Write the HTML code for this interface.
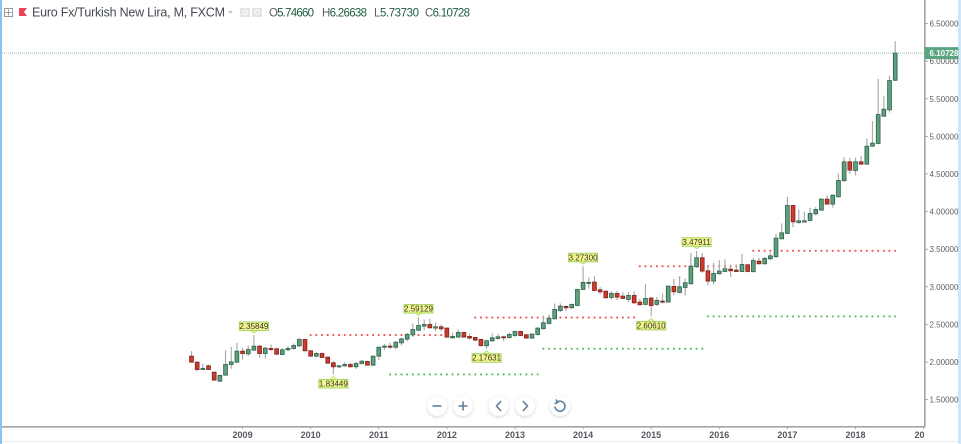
<!DOCTYPE html>
<html>
<head>
<meta charset="utf-8">
<title>Euro Fx/Turkish New Lira chart</title>
<style>
html,body{margin:0;padding:0;background:#fff;width:961px;height:444px;overflow:hidden}
svg{display:block;font-family:"Liberation Sans",sans-serif;filter:blur(0.35px)}
</style>
</head>
<body>
<svg id="chart" width="961" height="444" viewBox="0 0 961 444" xmlns="http://www.w3.org/2000/svg">
<defs>
<filter id="soft" x="-50%" y="-50%" width="200%" height="200%"><feGaussianBlur stdDeviation="1.6"/></filter>
</defs>
<rect x="0" y="0" width="961" height="444" fill="#fff"/>
<rect x="0" y="0" width="2" height="444" fill="#8cc2f2"/>
<rect x="958" y="0" width="3" height="444" fill="#cfe6f8"/>
<rect x="2" y="441" width="956" height="1" fill="#e6eef5"/>
<g id="pivots"></g>
<line id="lastLine" x1="2" x2="925" stroke="#8fc4a6" stroke-width="1" stroke-dasharray="1 1"/>
<g id="candles"></g>
<g id="callouts"></g>
<rect x="2" y="426" width="923" height="1.6" fill="#a3a3a3"/>
<rect x="924" y="0" width="1.6" height="427.6" fill="#a3a3a3"/>
<g id="yAxis"></g>
<g id="xAxis"></g>
<g>
<rect id="badgeRect" x="924.500" width="34" height="12" fill="#5ba582"/>
<text id="badgeText" x="944" text-anchor="middle" font-size="8" font-weight="bold" fill="#fff">6.10728</text>
</g>
<g>
<g>
<rect x="4.5" y="8.5" width="8" height="8" fill="#fff" stroke="#9a9a9a"/>
<path d="M8.5 9.5v6M5.5 12.5h6" stroke="#9a9a9a" stroke-width="1" fill="none"/>
</g>
<path d="M19 8h8l-3 4 3 4h-8z" fill="#ee3f5b"/>
<text x="32" y="16.5" font-size="12.5" fill="#454a52" textLength="193" lengthAdjust="spacing">Euro Fx/Turkish New Lira, M, FXCM</text>
<path d="M228 11h5l-2.5 2.5z" fill="#bdbdbd"/>
<g>
<rect x="240" y="8" width="10" height="9" fill="#e4e4e4"/><circle cx="245" cy="12.5" r="2.2" fill="none" stroke="#fff"/>
</g>
<g>
<rect x="252" y="8" width="10" height="9" fill="#e4e4e4"/><circle cx="257" cy="12.5" r="2.2" fill="none" stroke="#fff"/>
</g>
<text x="269" y="16.5" font-size="11.5" fill="#1f5c40" textLength="45" lengthAdjust="spacing"><tspan fill="#5a5f66">O</tspan>5.74660</text>
<text x="322" y="16.5" font-size="11.5" fill="#1f5c40" textLength="45" lengthAdjust="spacing"><tspan fill="#5a5f66">H</tspan>6.26638</text>
<text x="374" y="16.5" font-size="11.5" fill="#1f5c40" textLength="45" lengthAdjust="spacing"><tspan fill="#5a5f66">L</tspan>5.73730</text>
<text x="425" y="16.5" font-size="11.5" fill="#1f5c40" textLength="45" lengthAdjust="spacing"><tspan fill="#5a5f66">C</tspan>6.10728</text>
</g>
<g fill="none" stroke="#5f7f9f" stroke-width="1.6">
<g>
<circle cx="437" cy="407" r="10" fill="#000" fill-opacity=".16" stroke="none" filter="url(#soft)"/><circle cx="437" cy="406" r="10" fill="#fff" stroke="none"/>
<path d="M432.5 406h9"/>
</g>
<g>
<circle cx="463" cy="407" r="10" fill="#000" fill-opacity=".16" stroke="none" filter="url(#soft)"/><circle cx="463" cy="406" r="10" fill="#fff" stroke="none"/>
<path d="M458.5 406h9M463 401.5v9"/>
</g>
<g>
<circle cx="498.500" cy="407" r="10" fill="#000" fill-opacity=".16" stroke="none" filter="url(#soft)"/><circle cx="498.500" cy="406" r="10" fill="#fff" stroke="none"/>
<path d="M501 401l-4.500 5 4.500 5"/>
</g>
<g>
<circle cx="525" cy="407" r="10" fill="#000" fill-opacity=".16" stroke="none" filter="url(#soft)"/><circle cx="525" cy="406" r="10" fill="#fff" stroke="none"/>
<path d="M523 401l4.500 5-4.500 5"/>
</g>
<g>
<circle cx="560" cy="407" r="10" fill="#000" fill-opacity=".16" stroke="none" filter="url(#soft)"/><circle cx="560" cy="406" r="10" fill="#fff" stroke="none"/>
<path d="M557 402.200a5 5 0 1 1-2 4.300"/><path d="M556 399.500l1.500 3-3 1.200"/>
</g>
</g>
</svg>
<script>
var startYear = 2008, startMonth = 4;
var opens = [
2.078,1.998,1.900,1.949,1.865,1.745,1.825,1.967,1.998,
2.144,2.109,2.158,2.211,2.113,2.180,2.175,2.100,2.162,2.180,2.215,2.299,
2.149,2.078,2.113,2.065,1.989,1.936,1.949,1.967,1.936,1.980,2.007,1.958,
2.078,2.197,2.211,2.197,2.255,2.304,2.361,2.423,2.477,2.499,2.451,2.468,
2.451,2.322,2.331,2.393,2.340,2.327,2.300,2.216,2.282,2.313,2.335,2.327,
2.353,2.406,2.362,2.318,2.366,2.442,2.513,2.575,2.685,2.739,2.721,2.752,
2.965,3.047,3.062,2.960,2.942,2.858,2.911,2.876,2.832,2.885,2.797,2.766,
2.850,2.766,2.810,2.797,3.005,2.925,2.992,3.040,3.266,3.386,3.213,3.076,
3.173,3.204,3.235,3.222,3.204,3.293,3.200,3.341,3.306,3.373,3.399,3.638,
3.709,4.081,3.855,3.860,3.882,3.971,4.020,4.166,4.100,4.197,4.410,4.662,
4.547,4.662,4.631,4.870,4.906,5.269,5.353,5.7466];
var highs = [
2.144,2.011,1.976,1.967,1.865,1.834,2.158,2.202,2.255,
2.188,2.220,2.35849,2.228,2.202,2.233,2.193,2.188,2.211,2.246,2.321,2.308,
2.158,2.131,2.127,2.073,2.011,1.958,1.998,1.989,2.002,2.025,2.016,2.082,
2.202,2.242,2.255,2.277,2.321,2.388,2.512,2.59129,2.566,2.575,2.521,2.499,
2.459,2.389,2.433,2.397,2.380,2.335,2.309,2.300,2.380,2.375,2.349,2.389,
2.415,2.415,2.371,2.380,2.464,2.619,2.632,2.778,2.778,2.756,2.778,2.975,
3.273,3.120,3.142,2.996,2.951,2.942,2.942,2.929,2.929,2.942,2.841,3.040,
2.867,2.867,2.912,3.018,3.107,3.142,3.107,3.450,3.47911,3.452,3.293,3.319,
3.355,3.364,3.297,3.297,3.439,3.302,3.386,3.386,3.395,3.452,3.705,3.842,
4.197,4.090,4.028,3.997,4.050,4.064,4.175,4.219,4.228,4.503,4.724,4.715,
4.715,4.742,4.972,5.203,5.765,5.535,5.810,6.26638];
var lows = [
1.989,1.878,1.900,1.900,1.754,1.737,1.821,1.909,1.989,
2.033,2.078,2.144,2.056,2.047,2.144,2.095,2.091,2.144,2.166,2.202,2.144,
2.069,2.060,2.056,1.976,1.83449,1.918,1.936,1.927,1.909,1.967,1.954,1.945,
2.025,2.158,2.175,2.166,2.220,2.277,2.335,2.410,2.424,2.442,2.411,2.411,
2.322,2.309,2.322,2.322,2.300,2.278,2.202,2.17631,2.265,2.300,2.278,2.309,
2.335,2.344,2.313,2.309,2.353,2.433,2.499,2.566,2.663,2.677,2.708,2.743,
2.956,2.978,2.942,2.898,2.845,2.832,2.823,2.840,2.796,2.774,2.752,2.757,
2.6061,2.744,2.779,2.788,2.885,2.912,2.885,3.031,3.253,3.186,3.023,3.031,
3.164,3.195,3.133,3.195,3.195,3.195,3.195,3.297,3.297,3.355,3.390,3.630,
3.705,3.793,3.838,3.855,3.873,3.948,4.011,4.091,4.051,4.188,4.401,4.503,
4.481,4.622,4.622,4.862,4.897,5.260,5.318,5.7373];
var closes = [
1.998,1.900,1.914,1.900,1.759,1.821,1.967,2.002,2.144,
2.113,2.166,2.211,2.113,2.184,2.166,2.104,2.162,2.180,2.220,2.299,2.149,
2.078,2.113,2.060,1.985,1.936,1.949,1.967,1.936,1.980,2.011,1.958,2.078,
2.197,2.211,2.197,2.264,2.308,2.366,2.432,2.485,2.499,2.455,2.468,2.442,
2.331,2.340,2.393,2.331,2.318,2.291,2.220,2.282,2.322,2.335,2.327,2.366,
2.406,2.353,2.318,2.371,2.451,2.521,2.583,2.699,2.743,2.721,2.765,2.965,
3.058,3.058,2.951,2.933,2.854,2.911,2.863,2.845,2.885,2.787,2.761,2.845,
2.752,2.819,2.797,3.009,2.934,3.000,3.054,3.275,3.386,3.209,3.076,3.178,
3.209,3.240,3.213,3.204,3.297,3.204,3.350,3.306,3.377,3.412,3.647,3.718,
4.081,3.864,3.878,3.878,3.975,4.028,4.166,4.100,4.219,4.414,4.662,4.552,
4.662,4.631,4.870,4.910,5.291,5.362,5.743,6.10728];
var lastPrice = 6.10728;
var priceTicks = ["6.50000","6.00000","5.50000","5.00000","4.50000","4.00000","3.50000","3.00000","2.50000","2.00000","1.50000"];
var yearTicks = [2009,2010,2011,2012,2013,2014,2015,2016,2017,2018,2019];
var redLevelStart = [21,50,79,99];
var redLevelEnd = [44,78,96,124];
var redLevelValue = [2.35849,2.59129,3.27300,3.47911];
var greenLevelStart = [35,62,91];
var greenLevelEnd = [61,90,124];
var greenLevelValue = [1.83449,2.17631,2.60610];
var calloutIndex = [11,25,40,52,69,81,89];
var calloutKind = ["high","low","high","low","high","low","high"];

var NS = "http://www.w3.org/2000/svg";
function xAt(i){ return 191.5 + 5.675 * i; }
function yAt(v){ return 23.6 + (6.5 - v) * 75.2; }
function xForYear(year){ return xAt((year - startYear) * 12 + 1 - startMonth); }
function make(tag, parent, attrs){
  var el = document.createElementNS(NS, tag);
  for (var k in attrs) el.setAttribute(k, attrs[k]);
  parent.appendChild(el);
  return el;
}

var lastLine = document.getElementById("lastLine");
lastLine.setAttribute("y1", yAt(lastPrice));
lastLine.setAttribute("y2", yAt(lastPrice));
document.getElementById("badgeRect").setAttribute("y", yAt(lastPrice) - 6);
document.getElementById("badgeText").setAttribute("y", yAt(lastPrice) + 3);

var pivots = document.getElementById("pivots");
function drawLevel(start, end, value, color, name){
  for (var m = start; m <= end; m++){
    var dot = make("rect", pivots, {x: xAt(m) - 0.9, y: yAt(value) - 0.9, width: 1.8, height: 1.8, fill: color});
    
    
  }
}
redLevelValue.forEach(function(v, n){ drawLevel(redLevelStart[n], redLevelEnd[n], v, "#f0474a", "resistance-level-dot"); });
greenLevelValue.forEach(function(v, n){ drawLevel(greenLevelStart[n], greenLevelEnd[n], v, "#4cb85c", "support-level-dot"); });

var candles = document.getElementById("candles");
opens.forEach(function(o, i){
  var c = closes[i], up = c >= o;
  var g = make("g", candles, {});
  
  
  var cx = xAt(i);
  make("line", g, {x1: cx, x2: cx, y1: yAt(highs[i]), y2: yAt(lows[i]), stroke: "#ababab", "stroke-width": 1.2});
  var top = yAt(Math.max(o, c)), bot = yAt(Math.min(o, c));
  make("rect", g, {x: cx - 1.9, y: top, width: 3.8, height: Math.max(bot - top, 1), fill: up ? "#5f9f80" : "#cf3a2c", stroke: up ? "#2a6148" : "#7d2018", "stroke-width": 0.8});
});

var callouts = document.getElementById("callouts");
calloutIndex.forEach(function(i, n){
  var high = calloutKind[n] === "high";
  var value = high ? highs[i] : lows[i];
  var cx = xAt(i), tip = yAt(value) + (high ? -2 : 2);
  var boxTop = high ? tip - 11 : tip + 3;
  var g = make("g", callouts, {});
  
  
  var notch = high ? boxTop + 8.5 : boxTop;
  make("rect", g, {x: cx - 14.5, y: boxTop, width: 29, height: 8.5, fill: "#f3f68c", stroke: "#a3d45f", "stroke-width": 1});
  make("path", g, {d: "M" + (cx - 3.5) + " " + notch + "L" + cx + " " + tip + "L" + (cx + 3.5) + " " + notch + "Z", fill: "#f3f68c", stroke: "#a3d45f", "stroke-width": 0.6});
  var t = make("text", g, {x: cx, y: boxTop + 7, "text-anchor": "middle", "font-size": 8, fill: "#333"});
  t.textContent = value.toFixed(5);
});

var yAxis = document.getElementById("yAxis");
priceTicks.forEach(function(label){
  var v = parseFloat(label), py = yAt(v);
  var tick = make("line", yAxis, {x1: 925, x2: 928, y1: py, y2: py, stroke: "#a3a3a3", "stroke-width": 1});
  
  
  var t = make("text", yAxis, {x: 929.5, y: py + 3, "font-size": 8, fill: "#5b6068"});
  
  
  t.textContent = label;
});

var xAxis = document.getElementById("xAxis");
yearTicks.forEach(function(year){
  var px = xForYear(year);
  var clipped = year > 2018;
  var tick = make("line", xAxis, {x1: px, x2: px, y1: 427, y2: 429, stroke: "#a3a3a3", "stroke-width": 1});
  
  
  var t = make("text", xAxis, {x: clipped ? 924.5 : px, y: 438, "text-anchor": clipped ? "end" : "middle", "font-size": 9, "font-weight": "bold", fill: "#55595f"});
  
  
  t.textContent = clipped ? String(year).slice(0, 2) : String(year);
});
</script>
</body>
</html>
